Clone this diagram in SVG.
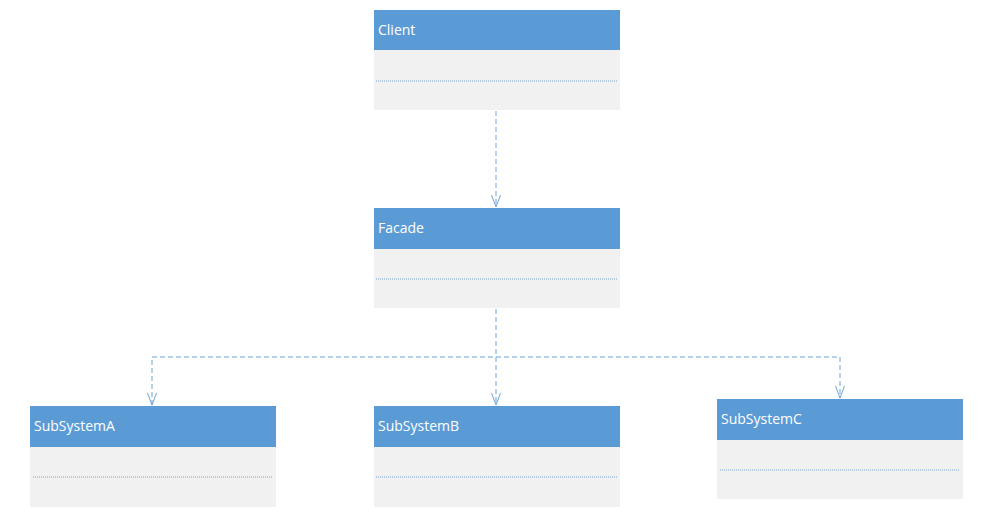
<svg xmlns="http://www.w3.org/2000/svg" width="981" height="517" viewBox="0 0 981 517">
<style>
.hdr{fill:#5B9BD5;}
.body{fill:#F1F1F1;}
.sep{stroke:#7FA7D3;stroke-width:1;stroke-dasharray:1 1;}
.lbl{font-family:"Open Sans","Liberation Sans",sans-serif;font-size:14px;fill:#FFFFFF;}
.con{fill:none;stroke:#6FA3DA;stroke-width:1;stroke-dasharray:5 3;}
.arr{fill:none;stroke:#6FA3DA;stroke-width:1;}
</style>
<rect width="981" height="517" fill="#FFFFFF"/>
<g id="connectors">
<line class="con" x1="496" y1="111" x2="496" y2="207"/>
<path class="arr" d="M491.5,195 L496,207 L500.5,195"/>
<line class="con" x1="496" y1="309" x2="496" y2="357"/>
<polyline class="con" points="152,405 152,357 840,357 840,398"/>
<line class="con" x1="496" y1="357" x2="496" y2="405"/>
<path class="arr" d="M147.5,393 L152,405 L156.5,393"/>
<path class="arr" d="M491.5,393 L496,405 L500.5,393"/>
<path class="arr" d="M835.5,386 L840,398 L844.5,386"/>
</g>
<g id="client">
<rect class="body" x="374" y="10" width="246" height="100"/>
<rect class="hdr" x="374" y="10" width="246" height="40"/>
<line class="sep" x1="376" y1="81" x2="617" y2="81"/>
<text class="lbl" x="378" y="35">Client</text>
</g>
<g id="facade">
<rect class="body" x="374" y="208" width="246" height="100"/>
<rect class="hdr" x="374" y="208" width="246" height="41"/>
<line class="sep" x1="376" y1="279" x2="617" y2="279"/>
<text class="lbl" x="378" y="233">Facade</text>
</g>
<g id="subsystemA">
<rect class="body" x="30" y="406" width="246" height="101"/>
<rect class="hdr" x="30" y="406" width="246" height="41"/>
<line class="sep" x1="33" y1="477" x2="272" y2="477"/>
<text class="lbl" x="34" y="431">SubSystemA</text>
</g>
<g id="subsystemB">
<rect class="body" x="374" y="406" width="246" height="101"/>
<rect class="hdr" x="374" y="406" width="246" height="41"/>
<line class="sep" x1="376" y1="477" x2="617" y2="477"/>
<text class="lbl" x="378" y="431">SubSystemB</text>
</g>
<g id="subsystemC">
<rect class="body" x="717" y="399" width="246" height="100"/>
<rect class="hdr" x="717" y="399" width="246" height="41"/>
<line class="sep" x1="720" y1="470" x2="959" y2="470"/>
<text class="lbl" x="721" y="424">SubSystemC</text>
</g>
</svg>
